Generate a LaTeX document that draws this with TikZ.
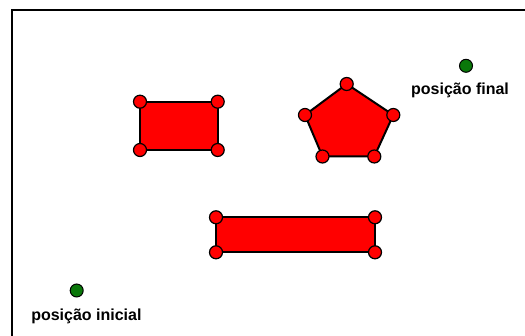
\documentclass[tikz,border=0pt]{standalone}
\usepackage{fontspec}
\setmainfont{Liberation Sans}
\usetikzlibrary{positioning,backgrounds}
\definecolor{ptgreen}{RGB}{10,120,10}
\begin{document}
\begin{tikzpicture}[x=1pt,y=-1pt]
  \useasboundingbox (0,0) rectangle (525,336);
  % frame
  \draw[line width=2pt] (11.5,340) -- (11.5,10.5) -- (530,10.5);
  \begin{scope}[every node/.style={draw=black, circle, fill=red, line width=1.2pt, inner sep=0pt, minimum size=13pt}]
    % rectangle
    \node (a1) at (140,101.7) {};
    \node (a2) at (217.7,101.7) {};
    \node (a3) at (217.7,150) {};
    \node (a4) at (140,150) {};
    % pentagon
    \node (p1) at (346.7,84) {};
    \node (p2) at (393.3,115) {};
    \node (p3) at (374.3,156.5) {};
    \node (p4) at (322.5,156.5) {};
    \node (p5) at (305,115) {};
    % long bar
    \node (b1) at (216,217.3) {};
    \node (b2) at (375,217.3) {};
    \node (b3) at (375,252.3) {};
    \node (b4) at (216,252.3) {};
  \end{scope}
  \begin{pgfonlayer}{background}
    \begin{scope}[every path/.style={draw=black, fill=red, line width=2pt, line join=round}]
      \path (a1.center) -- (a2.center) -- (a3.center) -- (a4.center) -- cycle;
      \path (p1.center) -- (p2.center) -- (p3.center) -- (p4.center) -- (p5.center) -- cycle;
      \path (b1.center) -- (b2.center) -- (b3.center) -- (b4.center) -- cycle;
    \end{scope}
  \end{pgfonlayer}
  \begin{scope}[every node/.style={draw=black, circle, fill=ptgreen, line width=1pt, inner sep=0pt, minimum size=13pt}]
    \node (s) at (76.7,290.5) {};
    \node (t) at (466,65.8) {};
  \end{scope}
  \begin{scope}[every node/.style={font=\bfseries\fontsize{16}{19}\selectfont, inner sep=0pt, anchor=base}]
    \node (sl) at (86.4,321) {posição inicial};
    \node (tl) at (460,95) {posição final};
  \end{scope}
\end{tikzpicture}
\end{document}
